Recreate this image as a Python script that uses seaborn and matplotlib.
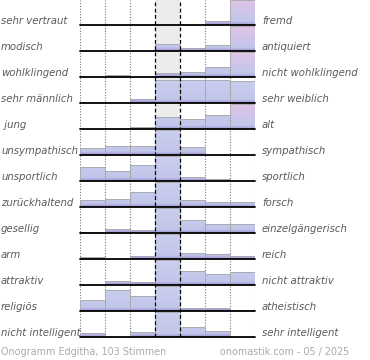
import numpy as np
import matplotlib
matplotlib.use('Agg')
import matplotlib.pyplot as plt
from matplotlib.colors import LinearSegmentedColormap
import seaborn as sns

# Onogramm data: 13 word pairs, 7 scale steps (bar height in row units, 25 = top of row)
left_labels = ['sehr vertraut', 'modisch', 'wohlklingend', 'sehr männlich', ' jung',
               'unsympathisch', 'unsportlich', 'zurückhaltend', 'gesellig', 'arm',
               'attraktiv', 'religiös', 'nicht intelligent']
right_labels = ['fremd', 'antiquiert', 'nicht wohlklingend', 'sehr weiblich', 'alt',
                'sympathisch', 'sportlich', 'forsch', 'einzelgängerisch', 'reich',
                'nicht attraktiv', 'atheistisch', 'sehr intelligent']
steps = ['1', '2', '3', '4', '5', '6', '7']
row_vertraut = [0.5, 0, 0, 0, 0, 4.3, 40]
row_modisch = [0, 0.5, 0, 6.7, 2.7, 6, 40]
row_wohlklingend = [0, 2, 0, 4.3, 5, 9.7, 40]
row_maennlich = [0.5, 0, 4.3, 23.5, 23, 23, 22]
row_jung = [0, 0.3, 1.7, 11.7, 10.3, 13.7, 40]
row_sympathisch = [6.7, 9.3, 9.3, 40, 7.7, 0, 0]
row_sportlich = [13.7, 10.3, 15.7, 40, 4, 2.3, 0]
row_forsch = [6.7, 8.3, 14.7, 40, 7, 5, 5]
row_gesellig = [1.3, 4.3, 3.3, 40, 13.3, 8.7, 8.7]
row_arm = [2, 0, 3.3, 40, 6.3, 5.3, 2.7]
row_attraktiv = [0, 4, 3.3, 40, 14.3, 10.7, 12.7]
row_religioes = [10.7, 20.7, 14.7, 40, 3.3, 3.3, 1.3]
row_intelligent = [4, 0, 4.7, 40, 9.7, 6.3, 0.5]
rows = [row_vertraut, row_modisch, row_wohlklingend, row_maennlich, row_jung,
        row_sympathisch, row_sportlich, row_forsch, row_gesellig, row_arm,
        row_attraktiv, row_religioes, row_intelligent]
footer_left = 'Onogramm Edgitha, 103 Stimmen'
footer_right = 'onomastik.com - 05 / 2025'

CAP = 25
W, H = 370, 360
X0, X1 = 80, 255
TOP0, STEP = 25, 26

sns.set_style('white')
plt.rcParams['font.family'] = ['DejaVu Sans']

cmap_blue = LinearSegmentedColormap.from_list(
    'blue', [(0, '#9a90cc'), (0.08, '#b3b3e2'), (0.14, '#c2c6ea'), (1, '#cacff0')])
cmap_pink = LinearSegmentedColormap.from_list(
    'pink', [(0, '#9a90cc'), (0.08, '#b3b3e2'), (0.14, '#c2c6ea'), (0.45, '#ccc6ea'), (1, '#e0c4e6')])
grad = np.linspace(0, 1, 64).reshape(-1, 1)

fig = plt.figure(figsize=(W / 100, H / 100), dpi=100)

def px(x, y, w, h):
    return [x / W, 1 - (y + h) / H, w / W, h / H]

# background: neutral column and dotted grid
bottom = TOP0 + STEP * (len(rows) - 1)
bg = fig.add_axes(px(X0, 0, X1 - X0, bottom))
bg.set_xlim(-0.5, 6.5)
bg.set_ylim(0, 1)
bg.axvspan(2.5, 3.5, color='#ececec', lw=0)
for xv in [-0.5, 0.5, 1.5, 4.5, 5.5, 6.5]:
    bg.axvline(xv, color='#777777', lw=0.8, ls=(0, (1, 1.5)))
bg.axis('off')

for i, vals in enumerate(rows):
    base = TOP0 + STEP * i
    ax = fig.add_axes(px(X0, base - CAP, X1 - X0, CAP))
    ax.patch.set_alpha(0)
    shown = np.minimum(vals, CAP)
    sns.barplot(x=steps, y=shown, ax=ax, width=1, color='#c3c8ea', saturation=1,
                edgecolor='#a8a8a8', linewidth=0.6)
    ax.set_xlim(-0.5, 6.5)
    ax.set_ylim(0, CAP)
    for j, bar in enumerate(ax.patches):
        bar.set_facecolor('none')
        bar.set_zorder(3)
        if shown[j] <= 0:
            continue
        cm = cmap_pink if (vals[j] > CAP and j != 3) else cmap_blue
        im = ax.imshow(grad, cmap=cm, aspect='auto', origin='lower',
                       extent=[j - 0.5, j + 0.5, 0, CAP], zorder=2)
        im.set_clip_path(bar)
    ax.axhline(0, color='black', lw=1.3, zorder=5, clip_on=False)
    ax.axis('off')
    fig.text(1 / W, 1 - (base - 4.5) / H, left_labels[i], ha='left', va='center',
             fontsize=7.3, style='italic', color='#5a5a5a')
    fig.text(262 / W, 1 - (base - 4.5) / H, right_labels[i], ha='left', va='center',
             fontsize=7.3, style='italic', color='#5a5a5a')

# dashed borders of the neutral column on top of the bars
ov = fig.add_axes(px(X0, 0, X1 - X0, bottom))
ov.set_xlim(-0.5, 6.5)
ov.set_ylim(0, 1)
ov.patch.set_alpha(0)
for xv in [2.5, 3.5]:
    ov.axvline(xv, color='black', lw=0.9, ls=(0, (3, 2)))
ov.axis('off')

fig.text(1 / W, 1 - 352 / H, footer_left, ha='left', va='center', fontsize=6.9, color='#aaaaaa')
fig.text(220 / W, 1 - 352 / H, footer_right, ha='left', va='center', fontsize=6.9, color='#aaaaaa')

fig.savefig('out.png', dpi=100)
